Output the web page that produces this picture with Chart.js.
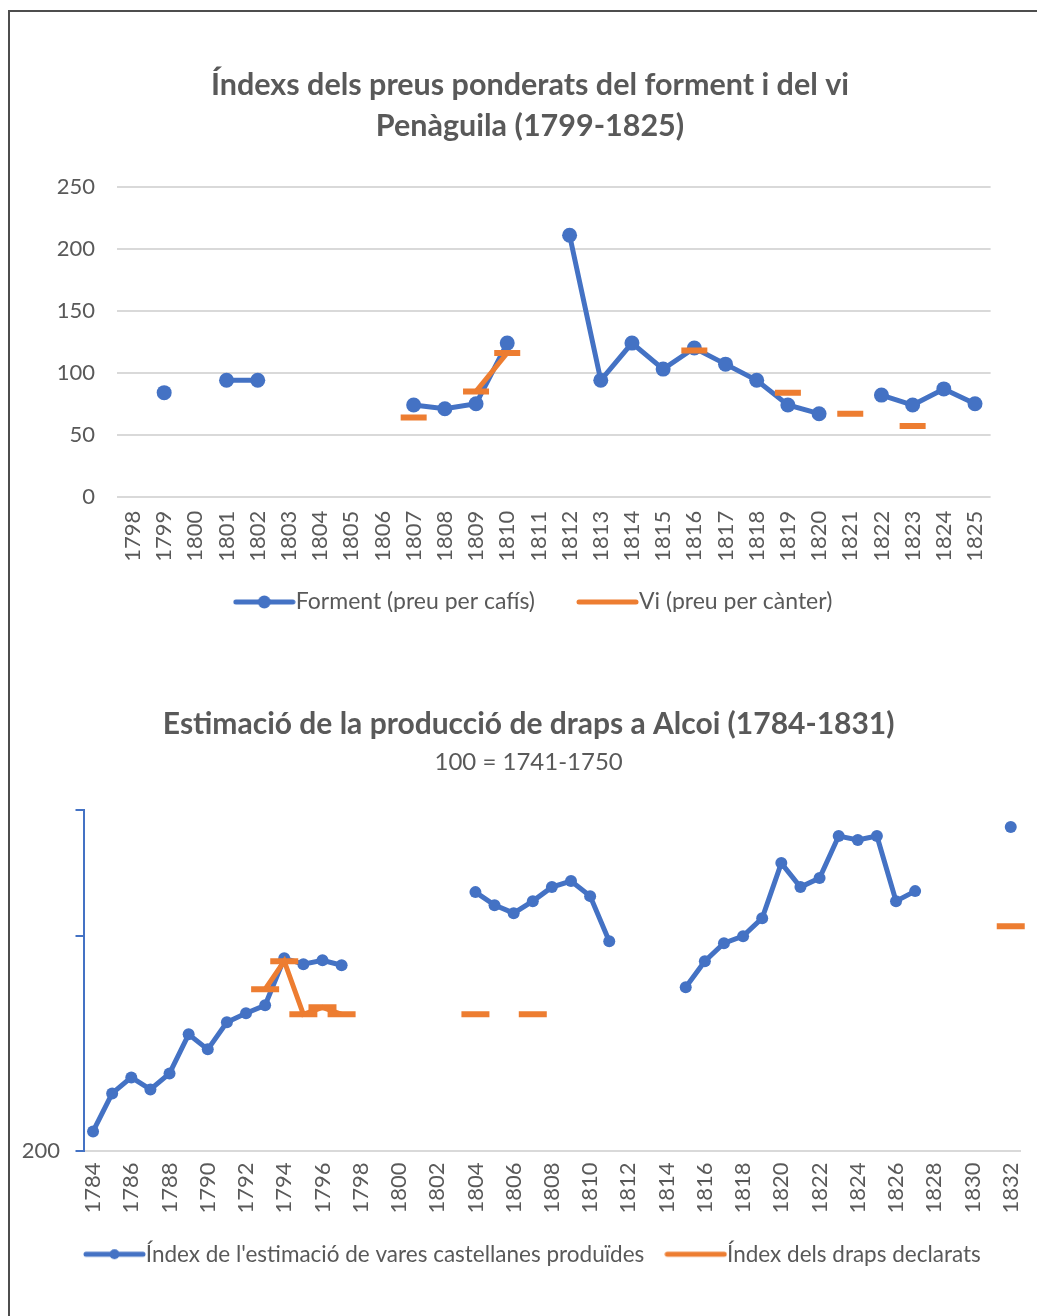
<!DOCTYPE html>
<html>
<head>
<meta charset="utf-8">
<script src="https://cdn.jsdelivr.net/npm/chart.js@4/dist/chart.umd.min.js"></script>
<style>
  html, body { margin: 0; padding: 0; background: #ffffff; }
  body { width: 1037px; height: 1316px; position: relative; overflow: hidden; }
  #frame { position: absolute; left: 8px; top: 10px; width: 1100px; height: 1400px;
           border-left: 2px solid #4d4d4d; border-top: 2px solid #4d4d4d; }
  #wrap1 { position: absolute; left: 0; top: 0; width: 1037px; height: 612px; overflow: hidden; }
  #c1 { position: absolute; left: 0; top: 0; }
  #c2 { position: absolute; left: 0; top: 640px; }
</style>
</head>
<body>
<div id="frame"></div>
<div id="wrap1"><canvas id="c1" width="1037" height="660"></canvas></div>
<canvas id="c2" width="1037" height="676"></canvas>
<script>
// ---------- Chart 1 data ----------
const priceYears = ['1798','1799','1800','1801','1802','1803','1804','1805','1806','1807','1808','1809','1810','1811','1812','1813','1814','1815','1816','1817','1818','1819','1820','1821','1822','1823','1824','1825'];
const formentValues = [null, 84, null, 94, 94, null, null, null, null, 74, 71, 75, 124, null, 211, 94, 124, 103, 120, 107, 94, 74, 67, null, 82, 74, 87, 75];
const viValues = [null, null, null, null, null, null, null, null, null, 64, null, 85, 116, null, null, null, null, null, 118, null, null, 84, null, 67, null, 57, null, null];
const priceTicks = [0, 50, 100, 150, 200, 250];

// ---------- Chart 2 data ----------
const clothYears = ['1784','1785','1786','1787','1788','1789','1790','1791','1792','1793','1794','1795','1796','1797','1798','1799','1800','1801','1802','1803','1804','1805','1806','1807','1808','1809','1810','1811','1812','1813','1814','1815','1816','1817','1818','1819','1820','1821','1822','1823','1824','1825','1826','1827','1828','1829','1830','1831','1832'];
const varesValues = [219, 257, 273, 261, 277, 316, 301, 328, 337, 345, 392, 386, 390, 385, null, null, null, null, null, null, 458, 445, 437, 449, 463, 469, 454, 409, null, null, null, 363, 389, 407, 414, 432, 487, 463, 472, 514, 510, 514, 449, 459, null, null, null, null, 523];
const drapsValues = [null, null, null, null, null, null, null, null, null, 361, 389, 336, 343, 336, null, null, null, null, null, null, 336, null, null, 336, null, null, null, null, null, null, null, null, null, null, null, null, null, null, null, null, null, null, null, null, null, null, null, null, 424];
const clothTicks = [200, 414, 540];
const clothTickLabels = ['200', '', ''];

const BLUE = '#4472C4';
const ORANGE = '#ED7D31';
const GREY = '#595959';
const GRID = '#d9d9d9';
const FONT = 'Lato';

function legendIcon(color, markerRadius) {
  const c = document.createElement('canvas');
  c.width = 63; c.height = 16;
  const g = c.getContext('2d');
  g.strokeStyle = color; g.lineWidth = 5; g.lineCap = 'round';
  g.beginPath(); g.moveTo(3, 8); g.lineTo(60, 8); g.stroke();
  if (markerRadius) {
    g.fillStyle = color;
    g.beginPath(); g.arc(31.5, 8, markerRadius, 0, Math.PI * 2); g.fill();
  }
  return c;
}

function makeLegendLabels(names, icons) {
  return function () {
    return names.map((t, i) => ({
      text: t, pointStyle: icons[i], fillStyle: 'rgba(0,0,0,0)', strokeStyle: 'rgba(0,0,0,0)',
      lineWidth: 0, hidden: false, datasetIndex: i, fontColor: GREY
    }));
  };
}

// moves the legend and title boxes after layout (text placement only)
const boxShift = {
  id: 'boxShift',
  afterLayout(chart, args, opts) {
    chart.boxes.forEach(b => {
      if (b.axis) return;
      if (b === chart.legend) {
        b.left += opts.legendDx || 0; b.right += opts.legendDx || 0;
        b.top += opts.legendDy || 0; b.bottom += opts.legendDy || 0;
      } else {
        b.left += opts.titleDx || 0; b.right += opts.titleDx || 0;
      }
    });
  }
};

Chart.defaults.font.family = FONT;
Chart.defaults.color = GREY;

// ---------- Chart 1 ----------
new Chart(document.getElementById('c1'), {
  type: 'line',
  plugins: [boxShift],
  data: {
    labels: priceYears,
    datasets: [
      { label: 'Forment (preu per cafís)', data: formentValues, borderColor: BLUE, backgroundColor: BLUE,
        borderWidth: 5, pointRadius: 7.5, pointBackgroundColor: BLUE, pointBorderColor: BLUE, pointBorderWidth: 0,
        spanGaps: false, order: 1 },
      { label: 'Vi (preu per cànter)', data: viValues, borderColor: ORANGE, backgroundColor: ORANGE,
        borderWidth: 5, pointStyle: 'line', pointRadius: 13, pointBorderWidth: 6, pointBorderColor: ORANGE,
        spanGaps: false, order: 0 }
    ]
  },
  options: {
    responsive: false, animation: false, devicePixelRatio: 1,
    layout: { autoPadding: false, padding: { left: 0, right: 46.4, top: 0, bottom: 11.8 } },
    plugins: {
      tooltip: { enabled: false },
      boxShift: { legendDx: 43, legendDy: -24.7, titleDx: 34.7 },
      title: { display: true, text: ['Índexs dels preus ponderats del forment i del vi', 'Penàguila (1799-1825)'],
        color: GREY, font: { family: FONT, size: 30.5, weight: 'bold', lineHeight: '41px' },
        padding: { top: 64.5, bottom: 40.5 } },
      legend: { position: 'bottom', align: 'center',
        labels: { usePointStyle: true, pointStyleWidth: 40, padding: 52.5, color: GREY,
          font: { family: FONT, size: 23 },
          generateLabels: makeLegendLabels(['Forment (preu per cafís)', 'Vi (preu per cànter)'], [legendIcon(BLUE, 6.5), legendIcon(ORANGE, 0)]) } }
    },
    scales: {
      x: {
        offset: true,
        grid: { display: false, drawTicks: false },
        border: { display: false },
        ticks: { autoSkip: false, minRotation: 90, maxRotation: 90, padding: 14, color: GREY, font: { family: FONT, size: 22 } },
        afterFit: s => { s.height = 66; }
      },
      y: {
        min: 0, max: 250,
        afterBuildTicks: s => { s.ticks = priceTicks.map(v => ({ value: v })); },
        grid: { color: GRID, lineWidth: 2, drawTicks: false },
        border: { display: false },
        ticks: { padding: 22.4, color: GREY, font: { family: FONT, size: 22 } },
        afterFit: s => { s.width = 117.4; }
      }
    }
  }
});

// ---------- Chart 2 ----------
new Chart(document.getElementById('c2'), {
  type: 'line',
  plugins: [boxShift],
  data: {
    labels: clothYears,
    datasets: [
      { label: "Índex de l'estimació de vares castellanes produïdes", data: varesValues, borderColor: BLUE, backgroundColor: BLUE,
        borderWidth: 5, pointRadius: 6, pointBackgroundColor: BLUE, pointBorderColor: BLUE, pointBorderWidth: 0,
        spanGaps: false, order: 1 },
      { label: 'Índex dels draps declarats', data: drapsValues, borderColor: ORANGE, backgroundColor: ORANGE,
        borderWidth: 5, pointStyle: 'line', pointRadius: 14, pointBorderWidth: 6, pointBorderColor: ORANGE,
        spanGaps: false, order: 0 }
    ]
  },
  options: {
    responsive: false, animation: false, devicePixelRatio: 1,
    layout: { autoPadding: false, padding: { left: 0, right: 16.7, top: 0, bottom: 35.5 } },
    plugins: {
      tooltip: { enabled: false },
      boxShift: { legendDx: 27.5, legendDy: -5, titleDx: 18.5 },
      title: { display: true, text: 'Estimació de la producció de draps a Alcoi (1784-1831)',
        color: GREY, font: { family: FONT, size: 30, weight: 'bold', lineHeight: '32px' },
        padding: { top: 68.5, bottom: 0 } },
      subtitle: { display: true, text: '100 = 1741-1750',
        color: GREY, font: { family: FONT, size: 24, weight: 'normal', lineHeight: '27px' },
        padding: { top: 8, bottom: 34.5 } },
      legend: { position: 'bottom', align: 'center',
        labels: { usePointStyle: true, pointStyleWidth: 40, padding: 31.5, color: GREY,
          font: { family: FONT, size: 22.5 },
          generateLabels: makeLegendLabels(["Índex de l'estimació de vares castellanes produïdes", 'Índex dels draps declarats'], [legendIcon(BLUE, 5), legendIcon(ORANGE, 0)]) } }
    },
    scales: {
      x: {
        offset: true,
        grid: { display: false, drawTicks: true, tickLength: 12 },
        border: { display: true, color: GRID, width: 2 },
        ticks: { autoSkip: false, minRotation: 90, maxRotation: 90, padding: 0, color: GREY,
          font: { family: FONT, size: 22 },
          callback: function (v, i) { return i % 2 === 0 ? clothYears[i] : ''; } },
        afterFit: s => { s.height = 66; s.paddingLeft = 0; s.paddingRight = 0; }
      },
      y: {
        min: 200, max: 540,
        afterBuildTicks: s => { s.ticks = clothTicks.map(v => ({ value: v })); },
        grid: { display: true, drawOnChartArea: false, drawTicks: true, tickLength: 8, color: BLUE, lineWidth: 2 },
        border: { display: true, color: BLUE, width: 2 },
        ticks: { padding: 15.5, color: GREY, font: { family: FONT, size: 22 },
          callback: function (v, i) { return clothTickLabels[i]; } },
        afterFit: s => { s.width = 83.5; }
      }
    }
  }
});
</script>
</body>
</html>
